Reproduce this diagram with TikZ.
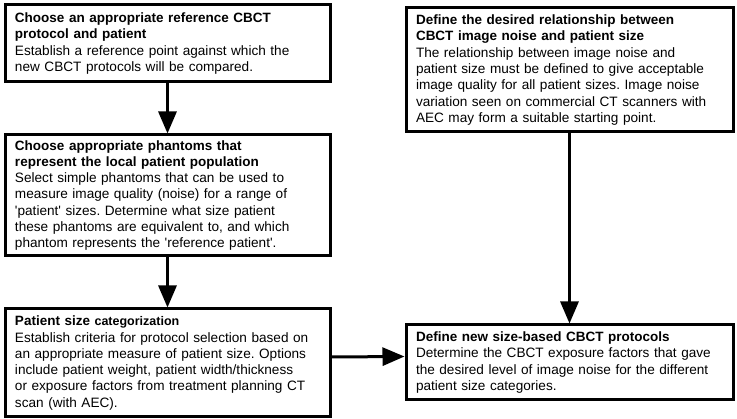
\documentclass[tikz,border=0pt]{standalone}
\usepackage{fontspec}
\setmainfont{Liberation Sans}
\usetikzlibrary{arrows.meta}
\newcommand{\ttlx}[1]{{\fontsize{13.5}{16.3}\selectfont\bfseries #1}}
\newcommand{\sq}{\textquotesingle}
\begin{document}
\begin{tikzpicture}[x=1pt,y=-1pt,
  box/.style={draw=black, line width=3pt, rectangle, anchor=north west,
    inner xsep=10pt, inner ysep=0pt, align=left, text width=#1,
    font=\fontsize{13.6}{16.3}\selectfont\frenchspacing},
  box/.default=305pt,
  arr/.style={line width=3pt, -{Triangle[width=18pt,length=22pt]}}]
\useasboundingbox (0,0) rectangle (737,419);
\fill[white] (0,0) rectangle (737,419);

\node[box, minimum width=325pt, minimum height=77pt] (b1) at (3.5,3.5)
 {\ttlx{Choose an appropriate reference CBCT}\\
  \ttlx{protocol and patient}\\
  Establish a reference point against which the\\
  new CBCT protocols will be compared.};

\node[box, minimum width=325pt, minimum height=121pt] (b2) at (3.5,133.5)
 {\ttlx{Choose appropriate phantoms that}\\
  \ttlx{represent the local patient population}\\
  Select simple phantoms that can be used to\\
  measure image quality (noise) for a range of\\
  \sq patient\sq\ sizes. Determine what size patient\\
  these phantoms are equivalent to, and which\\
  phantom represents the \sq reference patient\sq.};

\node[box, minimum width=325pt, minimum height=108pt] (b3) at (3.5,307.5)
 {\ttlx{Patient size} {\fontsize{12.5}{16.3}\selectfont\bfseries categorization}\\
  Establish criteria for protocol selection based on\\
  an appropriate measure of patient size. Options\\
  include patient weight, patient width/thickness\\
  or exposure factors from treatment planning CT\\
  scan (with AEC).};

\node[box=307pt, minimum width=327pt, minimum height=124pt] (b4) at (404.5,6.5)
 {\ttlx{Define the desired relationship between}\\
  \ttlx{CBCT image noise and patient size}\\
  The relationship between image noise and\\
  patient size must be defined to give acceptable\\
  image quality for all patient sizes. Image noise\\
  variation seen on commercial CT scanners with\\
  AEC may form a suitable starting point.};

\node[box=307pt, minimum width=327pt, minimum height=75pt] (b5) at (404.5,323.5)
 {\ttlx{Define new size-based CBCT protocols}\\
  Determine the CBCT exposure factors that gave\\
  the desired level of image noise for the different\\
  patient size categories.};

\draw[arr] (b1.south) -- (b2.north);
\draw[arr] (b2.south) -- (b3.north);
\draw[arr] (b4.south) -- (b5.north);
\draw[arr] ([yshift=6pt]b3.east) -- ([yshift=6pt]b5.west);
\end{tikzpicture}
\end{document}
